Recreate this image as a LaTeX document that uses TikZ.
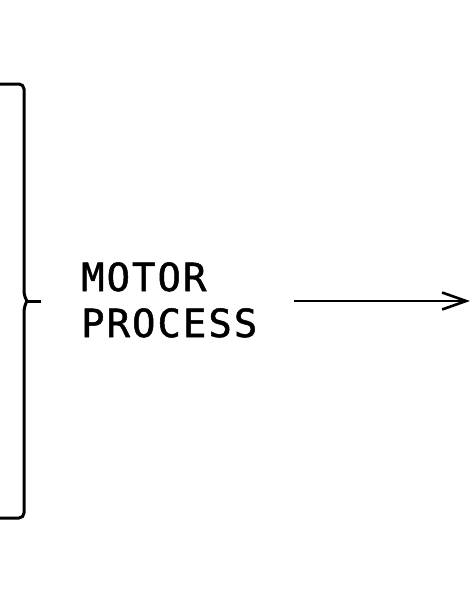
\documentclass[tikz,border=0pt]{standalone}
\usepackage{fontspec}
\newfontfamily\labelfont[LetterSpace=5.4,FakeBold=1.3]{DejaVu Sans Mono}
\usetikzlibrary{arrows.meta}
\begin{document}
\begin{tikzpicture}[x=1pt,y=-1pt,
  bracestroke/.style={line width=3pt,line cap=butt,line join=round},
  label/.style={font=\labelfont\fontsize{38.8}{45}\selectfont,anchor=base west,inner sep=0pt},
  flow/.style={line width=2.5pt,-{Straight Barb[length=24pt,width=17pt,line width=2.6pt]}}]
  \useasboundingbox (0,0) rectangle (470,594);
  % curly bracket gathering the items on the left
  \coordinate (tip) at (41,301);
  \draw[bracestroke,rounded corners=5pt] (0,84) -- (24,84) -- (24,296) -- (27,301);
  \draw[bracestroke] (27,301) -- (tip);
  \draw[bracestroke,rounded corners=5pt] (27,301) -- (24,307) -- (24,518) -- (0,518);
  % process label, two lines
  \node[label] (txtA) at (81,291) {MOTOR};
  \node[label] (txtB) at (81,337) {PROCESS};
  % outgoing arrow
  \coordinate (from) at (294,301);
  \coordinate (to) at (470,301);
  \draw[flow] (from) -- (to);
\end{tikzpicture}
\end{document}
